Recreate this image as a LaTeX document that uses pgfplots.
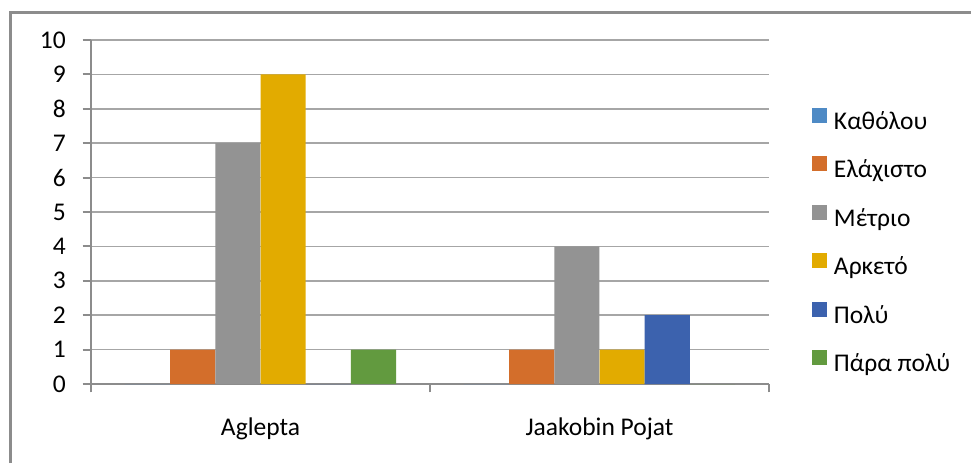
\documentclass[border=0pt]{standalone}
\usepackage{fontspec}
\setmainfont{Carlito}
\usepackage{pgfplots}
\pgfplotsset{compat=1.18}

\definecolor{cKath}{HTML}{4E8AC5}
\definecolor{cElax}{HTML}{D36E2B}
\definecolor{cMetr}{HTML}{939393}
\definecolor{cArke}{HTML}{E2AB00}
\definecolor{cPolu}{HTML}{3C62AE}
\definecolor{cPara}{HTML}{629A3F}
\definecolor{gridgray}{HTML}{A6A6A6}
\definecolor{axisgray}{HTML}{8C8C8C}

\newcommand{\chartfont}{\fontsize{25.5}{30}\selectfont}

\begin{document}
\begin{tikzpicture}
  \path[use as bounding box, fill=white] (0pt,0pt) rectangle (971pt,463pt);
  \draw[line width=3pt, axisgray] (10.8pt,0pt) -- (10.8pt,450.7pt) -- (971pt,450.7pt);
  \begin{axis}[
      at={(91pt,79pt)}, anchor=south west,
      scale only axis,
      width=678pt, height=344pt,
      ybar,
      bar width=0.1333,
      xmin=-0.5, xmax=1.5,
      ymin=0, ymax=10,
      ytick={0,1,...,10},
      xtick={-0.5,0.5,1.5},
      xticklabels={,,},
      extra x ticks={0,1},
      extra x tick labels={Aglepta, Jaakobin Pojat},
      extra x tick style={major tick length=0pt,
        xticklabel style={anchor=base, yshift=-51pt}},
      axis x line=bottom,
      axis y line=left,
      axis line style={-, line width=2pt, axisgray},
      ymajorgrids,
      major grid style={line width=1.6pt, gridgray},
      tick style={line width=2pt, axisgray},
      tick align=outside,
      major tick length=8.5pt,
      /pgf/number format/assume math mode=true,
      ticklabel style={font=\chartfont, text=black, inner sep=0pt},
      yticklabel style={anchor=east, xshift=-16.5pt},
      legend cell align=left,
      legend style={
        at={(1.0634,0.408)}, anchor=west,
        draw=none, fill=none, inner sep=0pt, outer sep=0pt,
        font=\chartfont, row sep=19pt, column sep=7pt,
        nodes={inner sep=0pt, text height=20pt, text depth=8pt},
      },
      legend image code/.code={\fill[#1] (0pt,0.5pt) rectangle (15pt,15.5pt);},
    ]
    \addplot[fill=cKath, draw=none, bar shift=-0.3333] coordinates {(0,0) (1,0)};
    \addlegendentry{Καθόλου}
    \addplot[fill=cElax, draw=none, bar shift=-0.2] coordinates {(0,1) (1,1)};
    \addlegendentry{Ελάχιστο}
    \addplot[fill=cMetr, draw=none, bar shift=-0.0667] coordinates {(0,7) (1,4)};
    \addlegendentry{Μέτριο}
    \addplot[fill=cArke, draw=none, bar shift=0.0667] coordinates {(0,9) (1,1)};
    \addlegendentry{Αρκετό}
    \addplot[fill=cPolu, draw=none, bar shift=0.2] coordinates {(0,0) (1,2)};
    \addlegendentry{Πολύ}
    \addplot[fill=cPara, draw=none, bar shift=0.3333] coordinates {(0,1) (1,0)};
    \addlegendentry{Πάρα πολύ}
  \end{axis}
\end{tikzpicture}
\end{document}
